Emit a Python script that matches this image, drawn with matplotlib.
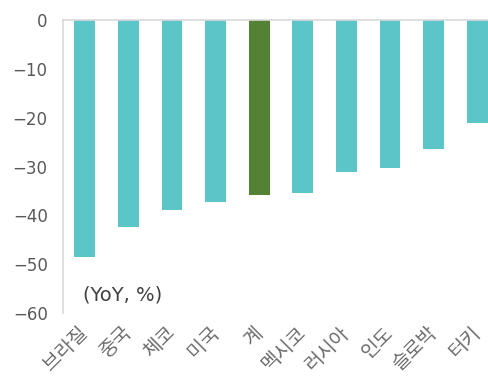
import matplotlib
matplotlib.use("Agg")
import matplotlib.pyplot as plt

plt.rcParams['font.family'] = ['Noto Sans CJK KR', 'DejaVu Sans']

categories = ['브라질', '중국', '체코', '미국', '계', '멕시코', '러시아', '인도', '슬로박', '터키']
values = [-48.5, -42.3, -39.0, -37.3, -35.8, -35.5, -31.1, -30.4, -26.4, -21.0]
highlight = '계'
yticks = [0, -10, -20, -30, -40, -50, -60]

teal = '#5BC5C7'
green = '#548235'
colors = [green if c == highlight else teal for c in categories]

fig = plt.figure(figsize=(4.88, 3.78), dpi=100)
# axis spans x 63..499 px, y 20..313 px
ax = fig.add_axes([63/488, 1 - 313/378, 436/488, 293/378])
x = list(range(len(categories)))
ax.bar(x, values, width=0.48, color=colors, edgecolor='none', zorder=2)
ax.set_xlim(-0.5, len(categories) - 0.5)
ax.set_ylim(-60, 0)
ax.set_yticks(yticks)
ax.set_yticklabels(['0' if v == 0 else '\u2212' + str(abs(v)) for v in yticks],
                   color='#595959', fontsize=12, family=['DejaVu Sans'])
ax.tick_params(axis='y', length=0, pad=11)
ax.tick_params(axis='x', length=0, pad=12)
ax.set_xticks(x)
ax.set_xticklabels(categories, rotation=45, ha='right', va='center', rotation_mode='anchor',
                   color='#6a6a6a', fontsize=14)
for s in ['right', 'bottom']:
    ax.spines[s].set_visible(False)
ax.spines['left'].set_color('#d9d9d9')
ax.spines['top'].set_color('#d9d9d9')
ax.spines['left'].set_linewidth(1.2)
ax.spines['top'].set_linewidth(1.2)
ax.text(83/488, 1 - 295/378, '(YoY, %)', transform=fig.transFigure, ha='left', va='center',
        fontsize=14, color='#404040', family=['DejaVu Sans'])

fig.savefig('out.png', dpi=100)
